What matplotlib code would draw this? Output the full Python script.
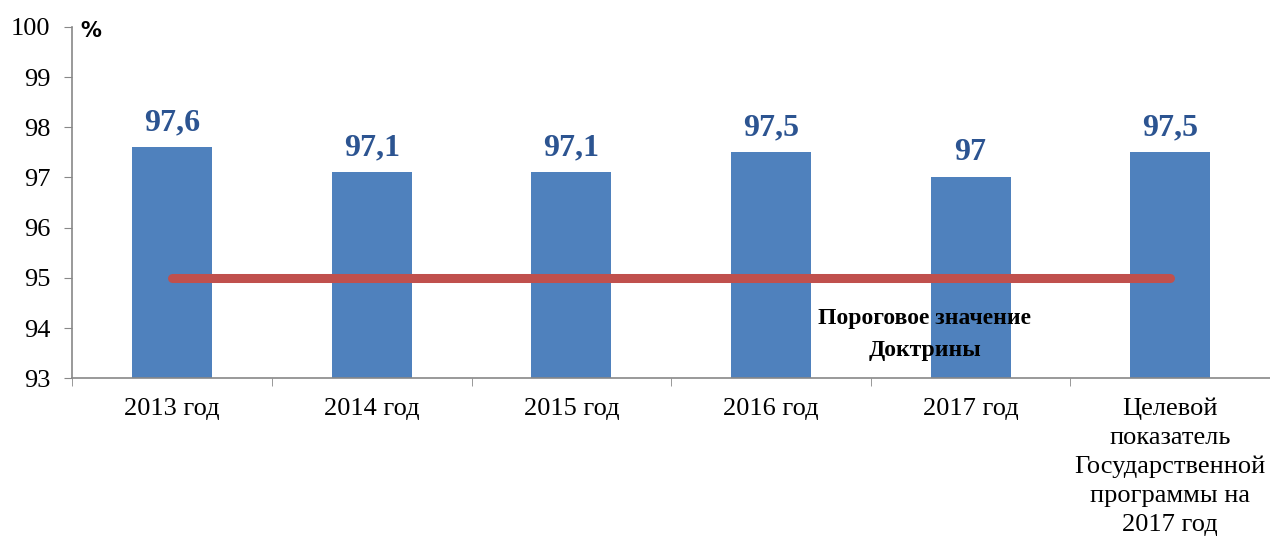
import numpy as np
import matplotlib.pyplot as plt

categories = ['2013 год', '2014 год', '2015 год', '2016 год', '2017 год',
              'Целевой\nпоказатель\nГосударственной\nпрограммы на\n2017 год']
values = [97.6, 97.1, 97.1, 97.5, 97.0, 97.5]
value_labels = ['97,6', '97,1', '97,1', '97,5', '97', '97,5']
threshold = 95
threshold_label = 'Пороговое значение\nДоктрины'

plt.rcParams['font.family'] = ['Liberation Serif', 'DejaVu Serif']

fig = plt.figure(figsize=(12.7, 5.38), dpi=100)
ax = fig.add_axes([0.057, 0.297, 0.943, 0.653])

x = np.arange(len(categories))
ax.bar(x, [v - 93 for v in values], bottom=93, width=0.4, color='#4F81BD', zorder=2)

# threshold line from first to last bar centre
ax.plot([x[0], x[-1]], [threshold, threshold], color='#C0504D', lw=6.5,
        solid_capstyle='round', zorder=3)
ax.text(3.77, 93.87, threshold_label, ha='center', va='center',
        fontsize=17, fontweight='bold', color='black', linespacing=1.65, zorder=4)

for xi, v, lab in zip(x, values, value_labels):
    ax.text(xi, v + 0.2, lab, ha='center', va='bottom', fontsize=23,
            fontweight='bold', color='#2C5491')

ax.set_xlim(-0.5, len(categories) - 0.5)
ax.set_ylim(93, 100)
ax.set_yticks(range(93, 101))
ax.tick_params(axis='y', labelsize=19, length=6, color='#888888', pad=10)

ax.set_xticks(x)
ax.set_xticklabels(categories, fontsize=19, linespacing=1.4)
ax.set_xticks(np.arange(-0.5, len(categories), 1), minor=True)
ax.tick_params(axis='x', which='major', length=0, pad=14)
ax.tick_params(axis='x', which='minor', length=6, color='#888888')

for s in ['top', 'right']:
    ax.spines[s].set_visible(False)
ax.spines['left'].set_color('#888888')
ax.spines['bottom'].set_color('#888888')
ax.spines['left'].set_linewidth(1.2)
ax.spines['bottom'].set_linewidth(1.2)

fig.text(0.063, 0.942, '%', fontsize=15, fontweight='bold', family='DejaVu Sans',
         ha='left', va='center')

fig.savefig('out.png', dpi=100)
